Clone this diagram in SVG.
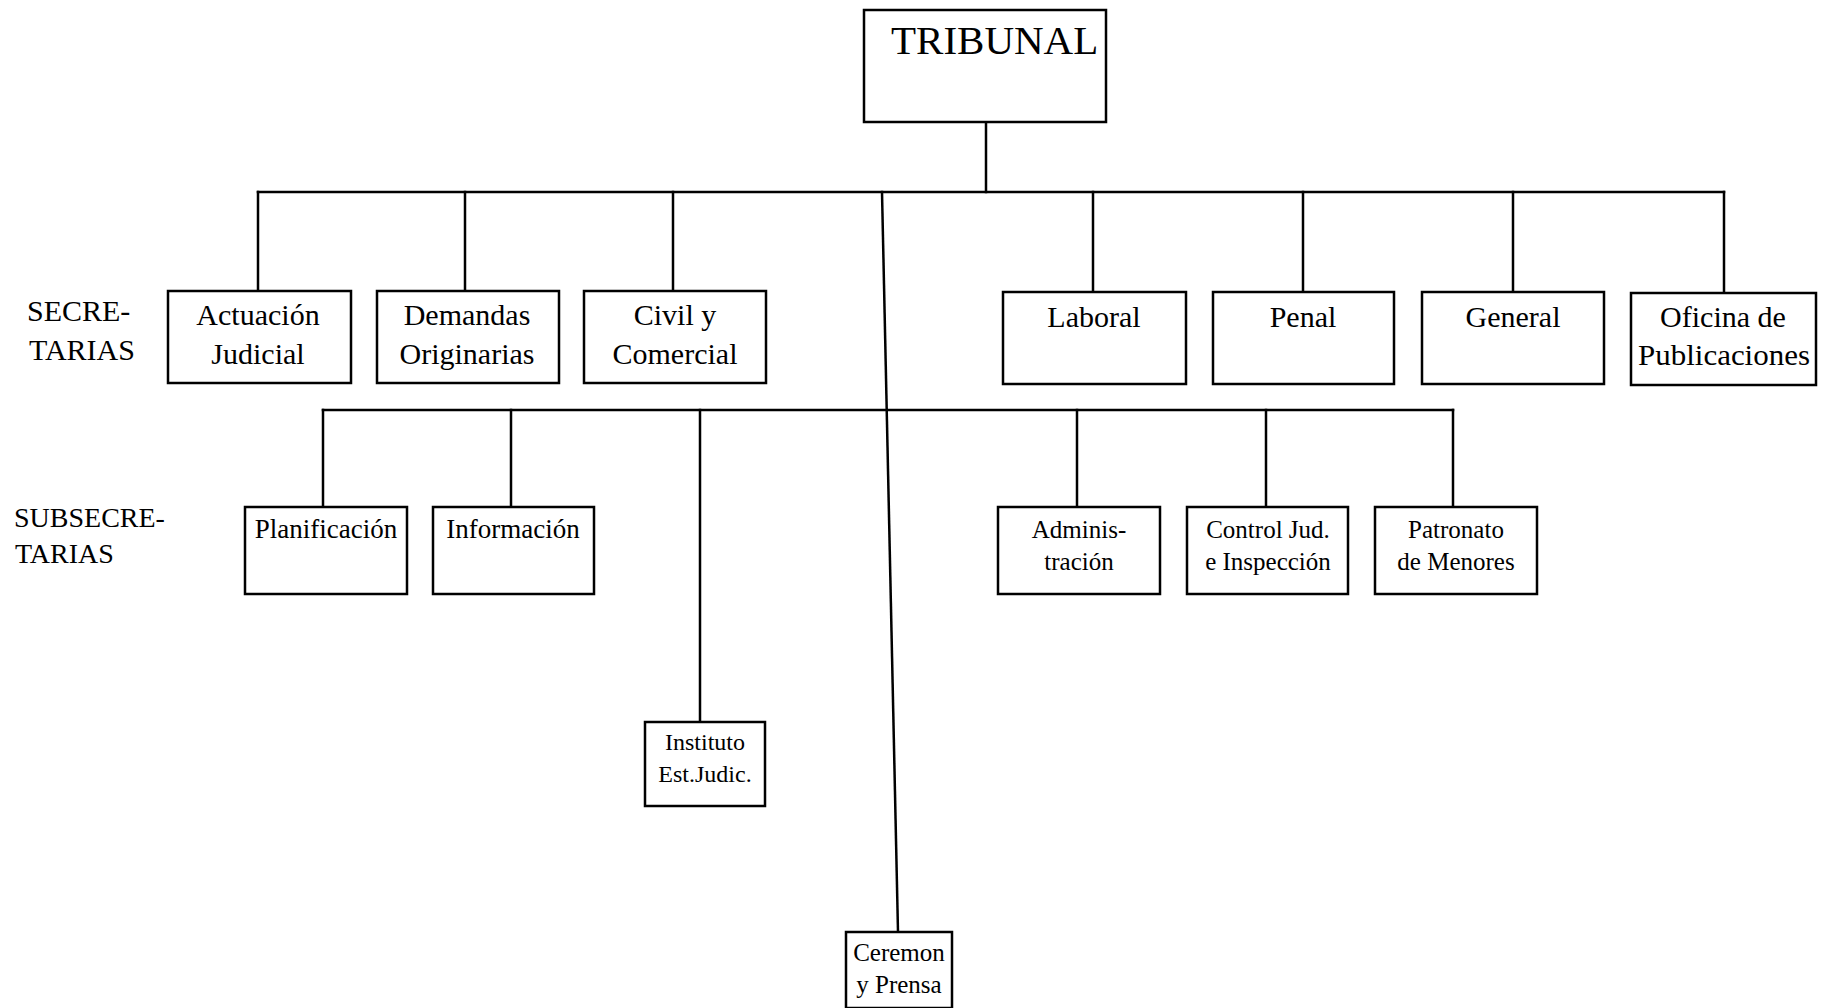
<svg xmlns="http://www.w3.org/2000/svg" width="1825" height="1008" viewBox="0 0 1825 1008">
<style>
  .box { fill: #fff; stroke: #000; stroke-width: 2.5; }
  .ln { fill: none; stroke: #000; stroke-width: 2.5; stroke-linecap: square; }
  text { font-family: "Liberation Serif", "Times New Roman", serif; fill: #000; }
  .t1 { font-size: 41px; }
  .sec { font-size: 30px; text-anchor: middle; }
  .sub { font-size: 27px; text-anchor: middle; }
  .sm { font-size: 25px; text-anchor: middle; }
  .xs { font-size: 24px; text-anchor: middle; }
  .lbl { font-size: 30px; }
  .lbl2 { font-size: 28px; }
</style>
<rect width="1825" height="1008" fill="#fff"/>

<g id="connectors">
  <path class="ln" d="M986 122 V192"/>
  <path class="ln" d="M258 192 H1724"/>
  <path class="ln" d="M258 192 V291"/>
  <path class="ln" d="M465 192 V291"/>
  <path class="ln" d="M673 192 V291"/>
  <path class="ln" d="M1093 192 V292"/>
  <path class="ln" d="M1303 192 V292"/>
  <path class="ln" d="M1513 192 V292"/>
  <path class="ln" d="M1724 192 V293"/>
  <path class="ln" d="M882 192 L898 932"/>
  <path class="ln" d="M323 410 H1453"/>
  <path class="ln" d="M323 410 V507"/>
  <path class="ln" d="M511 410 V507"/>
  <path class="ln" d="M700 410 V722"/>
  <path class="ln" d="M1077 410 V507"/>
  <path class="ln" d="M1266 410 V507"/>
  <path class="ln" d="M1453 410 V507"/>
</g>

<g id="labels">
  <text class="lbl" x="27" y="321">SECRE-</text>
  <text class="lbl" x="29" y="360">TARIAS</text>
  <text class="lbl2" x="14" y="527">SUBSECRE-</text>
  <text class="lbl2" x="15" y="563">TARIAS</text>
</g>

<g id="tribunal">
  <rect class="box" x="864" y="10" width="242" height="112"/>
  <text class="t1" x="891" y="54">TRIBUNAL</text>
</g>

<g id="actuacion-judicial">
  <rect class="box" x="168" y="291" width="183" height="92"/>
  <text class="sec" x="258" y="325">Actuación</text>
  <text class="sec" x="258" y="364">Judicial</text>
</g>
<g id="demandas-originarias">
  <rect class="box" x="377" y="291" width="182" height="92"/>
  <text class="sec" x="467" y="325">Demandas</text>
  <text class="sec" x="467" y="364">Originarias</text>
</g>
<g id="civil-comercial">
  <rect class="box" x="584" y="291" width="182" height="92"/>
  <text class="sec" x="675" y="325">Civil y</text>
  <text class="sec" x="675" y="364">Comercial</text>
</g>
<g id="laboral">
  <rect class="box" x="1003" y="292" width="183" height="92"/>
  <text class="sec" x="1094" y="327">Laboral</text>
</g>
<g id="penal">
  <rect class="box" x="1213" y="292" width="181" height="92"/>
  <text class="sec" x="1303" y="327">Penal</text>
</g>
<g id="general">
  <rect class="box" x="1422" y="292" width="182" height="92"/>
  <text class="sec" x="1513" y="327">General</text>
</g>
<g id="oficina-publicaciones">
  <rect class="box" x="1631" y="293" width="185" height="92"/>
  <text class="sec" x="1723" y="327">Oficina de</text>
  <text class="sec" x="1724" y="365" textLength="172" lengthAdjust="spacingAndGlyphs">Publicaciones</text>
</g>

<g id="planificacion">
  <rect class="box" x="245" y="507" width="162" height="87"/>
  <text class="sub" x="326" y="538">Planificación</text>
</g>
<g id="informacion">
  <rect class="box" x="433" y="507" width="161" height="87"/>
  <text class="sub" x="513" y="538">Información</text>
</g>
<g id="instituto">
  <rect class="box" x="645" y="722" width="120" height="84"/>
  <text class="xs" x="705" y="750">Instituto</text>
  <text class="xs" x="705" y="782">Est.Judic.</text>
</g>
<g id="administracion">
  <rect class="box" x="998" y="507" width="162" height="87"/>
  <text class="sm" x="1079" y="538">Adminis-</text>
  <text class="sm" x="1079" y="570">tración</text>
</g>
<g id="control-jud">
  <rect class="box" x="1187" y="507" width="161" height="87"/>
  <text class="sm" x="1268" y="538">Control Jud.</text>
  <text class="sm" x="1268" y="570">e Inspección</text>
</g>
<g id="patronato">
  <rect class="box" x="1375" y="507" width="162" height="87"/>
  <text class="sm" x="1456" y="538">Patronato</text>
  <text class="sm" x="1456" y="570">de Menores</text>
</g>
<g id="ceremon">
  <rect class="box" x="846" y="932" width="106" height="76"/>
  <text class="sm" x="899" y="961">Ceremon</text>
  <text class="sm" x="899" y="993">y Prensa</text>
</g>
</svg>
